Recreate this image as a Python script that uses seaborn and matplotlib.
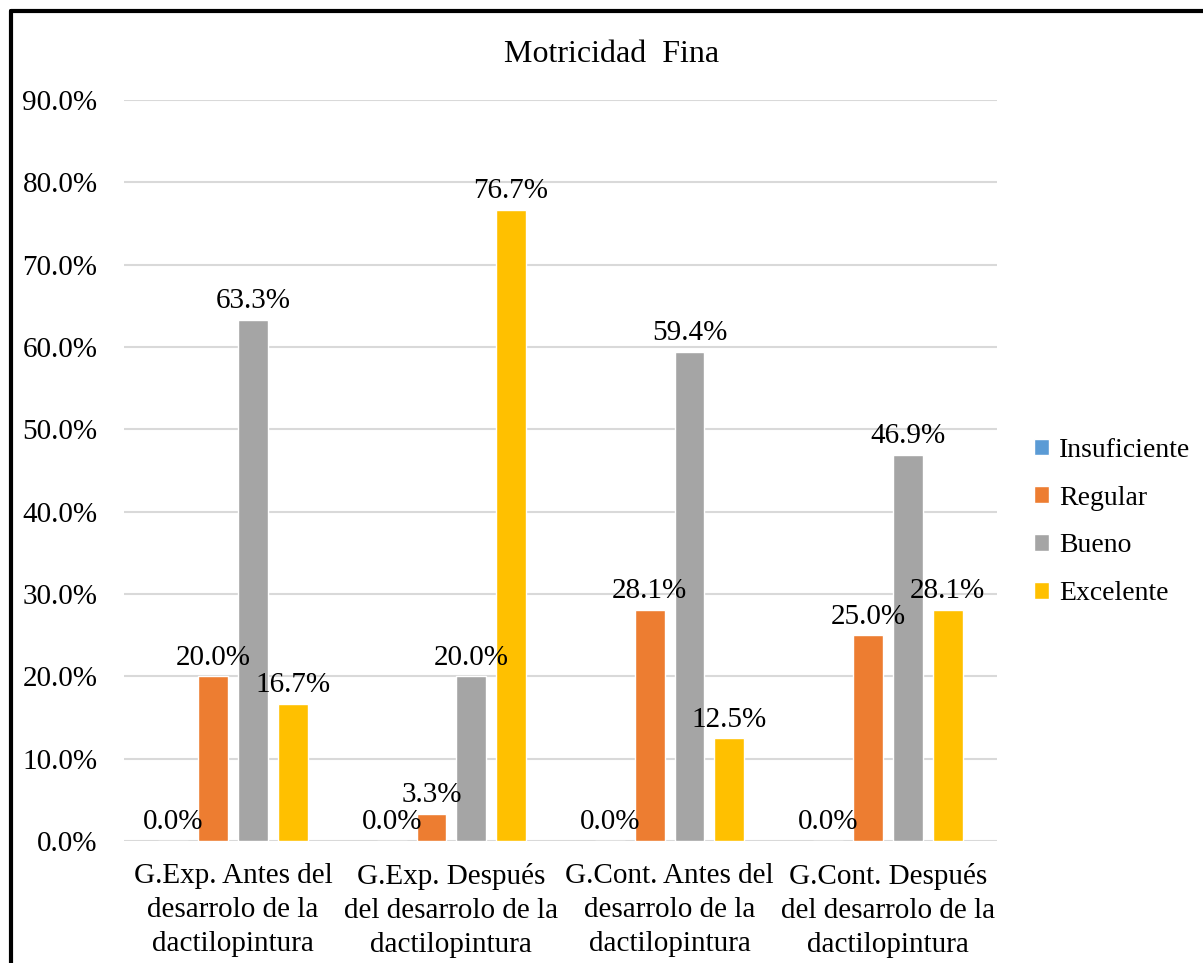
import matplotlib
matplotlib.use("Agg")
import matplotlib.pyplot as plt
import seaborn as sns
import pandas as pd
from matplotlib.lines import Line2D

categories = [
    "G.Exp. Antes del\ndesarrolo de la\ndactilopintura",
    "G.Exp. Después\ndel desarrolo de la\ndactilopintura",
    "G.Cont. Antes del\ndesarrolo de la\ndactilopintura",
    "G.Cont. Después\ndel desarrolo de la\ndactilopintura",
]
series_names = ["Insuficiente", "Regular", "Bueno", "Excelente"]
insuficiente = [0.0, 0.0, 0.0, 0.0]
regular = [20.0, 3.3, 28.1, 25.0]
bueno = [63.3, 20.0, 59.4, 46.9]
excelente = [16.7, 76.7, 12.5, 28.1]
colors = ["#5B9BD5", "#ED7D31", "#A5A5A5", "#FFC000"]
yticks = [0, 10, 20, 30, 40, 50, 60, 70, 80, 90]

rows = []
for name, vals in zip(series_names, [insuficiente, regular, bueno, excelente]):
    for c, v in zip(categories, vals):
        rows.append({"cat": c, "serie": name, "val": v})
df = pd.DataFrame(rows)

sns.set_theme(style="white")
plt.rcParams["font.family"] = ["Liberation Serif", "DejaVu Serif"]
plt.rcParams["text.color"] = "black"
plt.rcParams["xtick.color"] = "black"
plt.rcParams["ytick.color"] = "black"

fig = plt.figure(figsize=(12.03, 9.63), dpi=100)
ax = fig.add_axes([124 / 1203, 1 - 841 / 963, (997 - 124) / 1203, (841 - 100) / 963])

sns.barplot(data=df, x="cat", y="val", hue="serie", order=categories,
            hue_order=series_names, palette=colors, width=0.73, gap=0.25,
            saturation=1, ax=ax, legend=True)

ax.set_ylim(0, 90)
ax.set_yticks(yticks)
ax.set_yticklabels([f"{t:.1f}%" for t in yticks], fontsize=21)
ax.set_xlim(-0.5, 3.5)
ax.tick_params(axis="x", labelsize=21, length=0, pad=16, labelcolor="black")
ax.tick_params(axis="y", length=0, pad=19, labelcolor="black")
for lbl in ax.get_xticklabels():
    lbl.set_linespacing(1.4)
ax.set_xlabel("")
ax.set_ylabel("")
ax.grid(axis="y", color="#D9D9D9", linewidth=1.5)
ax.set_axisbelow(True)
for s in ax.spines.values():
    s.set_visible(False)

for cont in ax.containers:
    ax.bar_label(cont, labels=[f"{b.get_height():.1f}%" for b in cont],
                 fontsize=21, padding=4, color="black")

handles, labels = ax.get_legend_handles_labels()
ax.get_legend().remove()
fig.legend(handles, labels, loc="center left", bbox_to_anchor=(1009 / 1203, 1 - 522 / 963),
           frameon=False, fontsize=20, handlelength=0.55, handleheight=0.55,
           handletextpad=0.35, labelspacing=0.82, labelcolor="black")

fig.text(612 / 1203, 1 - 54 / 963, "Motricidad  Fina", ha="center", va="center",
         fontsize=23, color="black")

fig.add_artist(Line2D([11 / 1203, 11 / 1203], [0, 1 - 11 / 963], transform=fig.transFigure,
                      color="black", linewidth=3))
fig.add_artist(Line2D([11 / 1203, 1], [1 - 11 / 963, 1 - 11 / 963], transform=fig.transFigure,
                      color="black", linewidth=3))

fig.savefig("out.png", dpi=100)
